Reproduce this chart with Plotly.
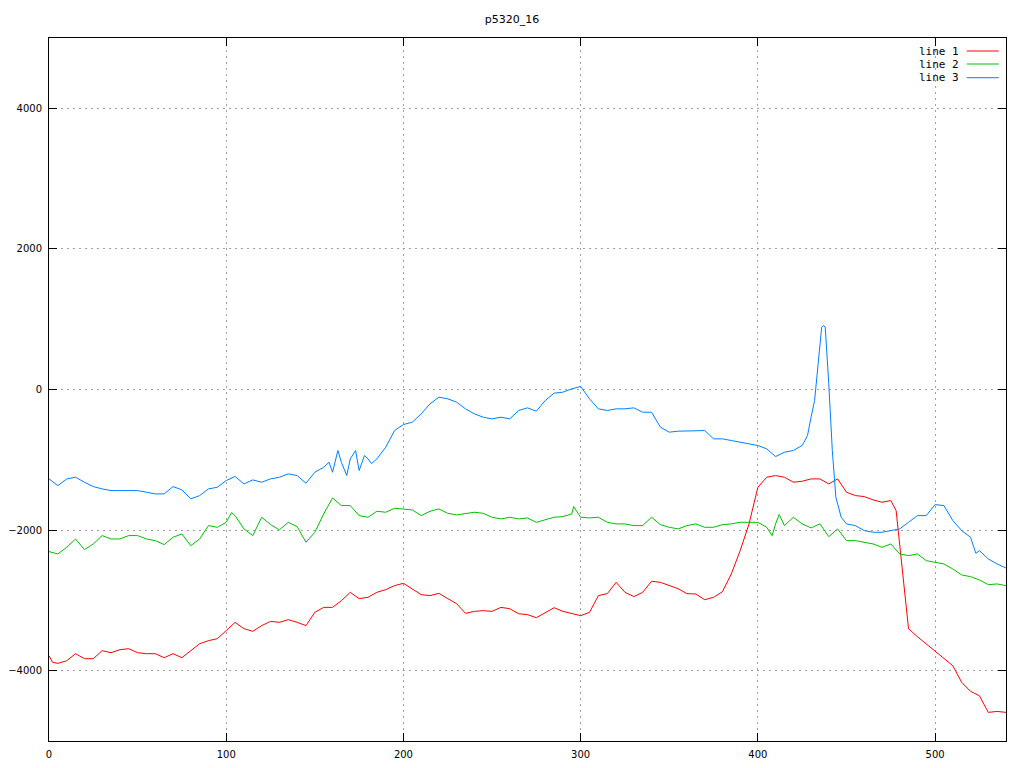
import plotly.graph_objects as go

title_text = "p5320_16"
series_names = ["line 1", "line 2", "line 3"]
series_colors = ["#ff0000", "#00c000", "#0080ff"]

# line 1 (red)
x1 = [0, 2, 5, 10, 15, 20, 25, 30, 35, 40, 45, 50, 55, 60, 65, 70, 75, 80, 85, 90,
      95, 100, 105, 110, 115, 120, 125, 130, 135, 140, 145, 150, 155, 160, 165, 170, 175, 180,
      185, 190, 195, 200, 205, 210, 215, 220, 225, 230, 235, 240, 245, 250, 255, 260, 265, 270,
      275, 280, 285, 290, 295, 300, 305, 310, 315, 320, 325, 330, 335, 340, 345, 350, 355, 360,
      365, 370, 375, 380, 385, 390, 395, 400, 405, 410, 415, 420, 425, 430, 435, 440, 445, 450,
      455, 460, 465, 470, 475, 478, 480, 482, 485, 490, 495, 500, 505, 510, 515, 520, 525, 530, 535, 540]
y1 = [-3786, -3880, -3896, -3858, -3758, -3829, -3829, -3715, -3744, -3701, -3687, -3744, -3758, -3758, -3815, -3758, -3815, -3715, -3616, -3573,
      -3544, -3430, -3312, -3402, -3440, -3359, -3298, -3312, -3274, -3312, -3359, -3170, -3099, -3099, -3004, -2885, -2975, -2956,
      -2885, -2847, -2790, -2757, -2833, -2918, -2932, -2899, -2975, -3046, -3184, -3156, -3146, -3156, -3099, -3118, -3189, -3203,
      -3246, -3170, -3104, -3156, -3189, -3217, -3170, -2932, -2904, -2743, -2885, -2946, -2885, -2728, -2743, -2790, -2833, -2904,
      -2909, -2990, -2956, -2876, -2624, -2292, -1912, -1390, -1248, -1224, -1248, -1319, -1305, -1272, -1272, -1343, -1272, -1461,
      -1509, -1523, -1570, -1604, -1580, -1722, -2192, -2671, -3402, -3516, -3620, -3715, -3820, -3929, -4166, -4294, -4356, -4593, -4579, -4593]

# line 2 (green)
x2 = [0, 5, 10, 15, 20, 25, 30, 35, 40, 45, 50, 55, 60, 65, 70, 75, 80, 85, 90,
      95, 100, 103, 105, 110, 115, 120, 125, 130, 135, 140, 145, 150, 155, 160, 165, 170, 175, 180,
      185, 190, 195, 200, 205, 210, 215, 220, 225, 230, 235, 240, 245, 250, 255, 260, 265, 270,
      275, 280, 285, 290, 295, 296, 300, 305, 310, 315, 320, 325, 330, 335, 340, 345, 350, 355, 360,
      365, 370, 375, 380, 385, 390, 395, 400, 405, 408, 410, 412, 415, 420, 425, 430, 435, 440, 445, 450,
      455, 460, 465, 470, 475, 480, 485, 490, 495, 500, 505, 510, 515, 520, 525, 530, 535, 540]
y2 = [-2306, -2339, -2245, -2126, -2278, -2197, -2078, -2126, -2126, -2078, -2078, -2126, -2150, -2206, -2102, -2055, -2221, -2126, -1936,
      -1960, -1889, -1750, -1794, -1983, -2078, -1817, -1922, -1997, -1889, -1950, -2173, -2031, -1770, -1542, -1651, -1651, -1794, -1817,
      -1732, -1746, -1689, -1699, -1713, -1794, -1732, -1699, -1761, -1784, -1770, -1746, -1761, -1817, -1841, -1817, -1841, -1827,
      -1889, -1855, -1817, -1808, -1770, -1665, -1817, -1827, -1817, -1889, -1912, -1912, -1936, -1936, -1817, -1922, -1960, -1983, -1936,
      -1912, -1960, -1960, -1922, -1912, -1889, -1889, -1889, -1960, -2078, -1912, -1779, -1936, -1817, -1912, -1969, -1912, -2093, -1983, -2150,
      -2150, -2173, -2197, -2245, -2197, -2339, -2363, -2339, -2434, -2458, -2482, -2553, -2638, -2662, -2709, -2776, -2766, -2790]

# line 3 (blue)
x3 = [0, 5, 10, 15, 20, 25, 30, 35, 40, 45, 50, 55, 60, 65, 70, 75, 80, 85, 90,
      95, 100, 105, 110, 115, 120, 125, 130, 135, 140, 145, 150, 155, 158, 160, 163, 165, 168, 170, 173, 175, 178, 180,
      182, 185, 190, 195, 200, 205, 210, 215, 220, 225, 230, 235, 240, 245, 250, 255, 260, 265, 270,
      275, 280, 285, 290, 295, 300, 305, 310, 315, 320, 325, 330, 335, 340, 345, 350, 355, 360,
      365, 370, 375, 380, 385, 390, 395, 400, 405, 410, 415, 420, 425, 428, 430, 432, 434, 436, 437, 438, 440, 442, 444, 447, 450,
      455, 460, 465, 470, 475, 480, 485, 490, 495, 500, 505, 510, 515, 520, 523, 525, 530, 535, 540]
y3 = [-1272, -1367, -1272, -1248, -1319, -1381, -1414, -1438, -1438, -1438, -1438, -1461, -1485, -1485, -1381, -1428, -1556, -1509, -1414,
      -1390, -1295, -1238, -1343, -1286, -1319, -1272, -1248, -1200, -1224, -1333, -1177, -1106, -1035, -1177, -868, -1035, -1224, -987, -868, -1153, -939, -987,
      -1054, -987, -821, -584, -498, -465, -347, -204, -109, -133, -180, -275, -346, -394, -418, -394, -418, -299, -261,
      -308, -157, -52, -38, 9, 43, -133, -275, -299, -275, -275, -261, -323, -323, -536, -607, -593, -593,
      -593, -584, -702, -702, -726, -750, -764, -797, -844, -954, -892, -868, -797, -655, -394, -157, 366, 887, 911, 887, 81, -868, -1533, -1817, -1912,
      -1936, -2007, -2031, -2031, -2007, -1983, -1889, -1794, -1794, -1637, -1651, -1865, -2007, -2102, -2330, -2292, -2410, -2482, -2539]

x_ticks = [0, 100, 200, 300, 400, 500]
y_ticks = [-4000, -2000, 0, 2000, 4000]

fig = go.Figure()
for xs, ys, name, col in zip([x1, x2, x3], [y1, y2, y3], series_names, series_colors):
    fig.add_trace(go.Scatter(x=xs, y=ys, mode="lines", name=name,
                             line=dict(color=col, width=1), showlegend=False))

# gnuplot-style legend: text then line sample
leg_y = [0.9815, 0.963, 0.9435]
for name, col, ly in zip(series_names, series_colors, leg_y):
    fig.add_annotation(x=0.953, y=ly, xref="paper", yref="paper", text=name,
                       showarrow=False, xanchor="right", yanchor="middle",
                       font=dict(family="DejaVu Sans Mono", size=11, color="black"))
    fig.add_shape(type="line", xref="paper", yref="paper", x0=0.959, x1=0.9925,
                  y0=ly, y1=ly, line=dict(color=col, width=1))

axis_common = dict(showline=True, linecolor="black", linewidth=1, mirror="allticks",
                   ticks="inside", ticklen=8, tickcolor="black", tickwidth=1,
                   showgrid=True, gridcolor="#a0a0a0", griddash="2px,4px", gridwidth=1,
                   zeroline=False, automargin=False,
                   tickfont=dict(family="DejaVu Sans", size=10, color="black"))

fig.update_layout(
    width=1008, height=752,
    paper_bgcolor="white", plot_bgcolor="white",
    margin=dict(l=41, r=10, t=30, b=19, autoexpand=False),
    title=dict(text=title_text, x=0.5, xanchor="center", y=1 - 11 / 752, yanchor="middle",
               font=dict(family="DejaVu Sans", size=11, color="black"), automargin=False),
    xaxis=dict(range=[0, 540], tickvals=x_ticks, ticklabelstandoff=4, **axis_common),
    yaxis=dict(range=[-5000, 5000], tickvals=y_ticks, ticklabelstandoff=4, **axis_common),
)

fig.write_html("out.html")
